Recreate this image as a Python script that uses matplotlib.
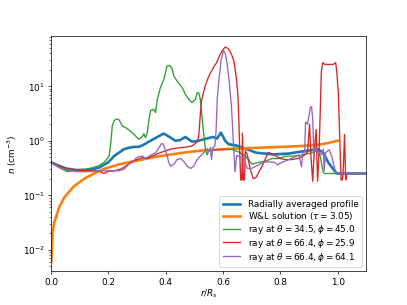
import matplotlib
matplotlib.use('Agg')
from matplotlib import pyplot as plt

# radially averaged profile
avg_r = [0.0, 0.052, 0.087, 0.133, 0.168, 0.2, 0.22, 0.237, 0.255, 0.272,
         0.29, 0.307, 0.325, 0.342, 0.365, 0.393, 0.41, 0.434, 0.45, 0.469,
         0.492, 0.51, 0.53, 0.566, 0.579, 0.593, 0.608, 0.62, 0.645, 0.67,
         0.717, 0.775, 0.83, 0.863, 0.9, 0.93, 0.95, 0.967, 0.985, 0.997,
         1.1]
avg_n = [0.40, 0.31, 0.29, 0.29, 0.32, 0.40, 0.52, 0.60, 0.70, 0.74,
         0.77, 0.77, 0.85, 0.96, 1.12, 1.35, 1.2, 1.0, 1.02, 1.17,
         0.96, 0.98, 1.05, 1.17, 1.09, 1.40, 0.99, 0.86, 0.82, 0.74,
         0.60, 0.56, 0.58, 0.62, 0.66, 0.70, 0.60, 0.40, 0.30, 0.25,
         0.25]

# W&L solution
wl_r = [0.002, 0.004, 0.006, 0.012, 0.023, 0.03, 0.046, 0.063, 0.08, 0.116,
        0.15, 0.19, 0.24, 0.30, 0.36, 0.42, 0.48, 0.54, 0.63, 0.75,
        0.86, 0.92, 0.955, 0.98, 1.0]
wl_n = [0.0063, 0.012, 0.021, 0.032, 0.048, 0.062, 0.09, 0.115, 0.145, 0.20,
        0.25, 0.31, 0.37, 0.43, 0.50, 0.56, 0.62, 0.67, 0.71, 0.75,
        0.79, 0.83, 0.88, 0.94, 1.0]

# ray theta=34.5, phi=45.0
ray1_r = [0.0, 0.029, 0.058, 0.087, 0.122, 0.145, 0.168, 0.185, 0.197, 0.203,
          0.209, 0.214, 0.22, 0.228, 0.238, 0.249, 0.261, 0.272, 0.284, 0.295,
          0.307, 0.319, 0.324, 0.33, 0.336, 0.342, 0.348, 0.359, 0.365, 0.371,
          0.382, 0.394, 0.405, 0.414, 0.423, 0.429, 0.44, 0.458, 0.469, 0.481,
          0.492, 0.504, 0.51, 0.516, 0.521, 0.53, 0.539, 0.545, 0.55, 0.585,
          0.632, 0.655, 0.678, 0.689, 0.701, 0.724, 0.747, 0.771, 0.794, 0.817,
          0.84, 0.863, 0.886, 0.91, 0.927, 0.939, 0.95, 0.956, 1.1]
ray1_n = [0.40, 0.32, 0.27, 0.29, 0.30, 0.32, 0.35, 0.40, 0.47, 0.52,
          0.92, 1.86, 2.3, 2.5, 2.4, 1.86, 1.73, 1.57, 1.40, 1.22,
          1.06, 1.18, 1.34, 1.13, 1.40, 2.46, 3.6, 3.75, 3.26, 5.7,
          9.4, 13.3, 23.3, 24.0, 20.4, 15.3, 12.4, 9.4, 7.1, 5.7,
          5.0, 5.7, 7.6, 7.4, 5.7, 1.86, 0.69, 0.55, 0.65, 0.69,
          0.69, 0.62, 0.52, 0.45, 0.37, 0.40, 0.42, 0.47, 0.47, 0.52,
          0.52, 0.53, 0.56, 0.60, 0.65, 0.52, 0.26, 0.25, 0.25]

# ray theta=66.4, phi=25.9
ray2_r = [0.0, 0.029, 0.064, 0.098, 0.133, 0.168, 0.185, 0.197, 0.22, 0.243,
          0.261, 0.284, 0.301, 0.319, 0.336, 0.353, 0.377, 0.40, 0.423, 0.446,
          0.469, 0.492, 0.504, 0.512, 0.516, 0.521, 0.526, 0.538, 0.55, 0.567,
          0.578, 0.59, 0.601, 0.608, 0.615, 0.622, 0.63, 0.638, 0.646, 0.652,
          0.656, 0.659, 0.662, 0.666, 0.668, 0.671, 0.675, 0.678, 0.685, 0.695,
          0.706, 0.715, 0.735, 0.758, 0.775, 0.80, 0.82, 0.84, 0.86, 0.88,
          0.895, 0.902, 0.907, 0.913, 0.918, 0.925, 0.93, 0.935, 0.939, 0.943,
          0.948, 0.955, 0.97, 0.985, 0.993, 0.997, 1.002, 1.007, 1.012, 1.016,
          1.019, 1.024, 1.028, 1.032, 1.1]
ray2_n = [0.41, 0.34, 0.30, 0.29, 0.28, 0.28, 0.25, 0.27, 0.28, 0.30,
          0.34, 0.42, 0.45, 0.49, 0.47, 0.52, 0.59, 0.65, 0.71, 0.74,
          0.76, 0.80, 0.89, 1.0, 1.3, 3.0, 5.7, 10.0, 15.0, 22.0,
          27.0, 38.0, 47.0, 52.0, 50.0, 46.0, 38.0, 29.0, 15.0, 7.0,
          2.0, 0.5, 0.19, 0.19, 1.36, 0.19, 0.19, 0.65, 0.55, 0.30,
          0.20, 0.21, 0.33, 0.61, 0.56, 0.47, 0.45, 0.45, 0.47, 0.52,
          0.62, 2.0, 0.5, 0.18, 0.6, 1.6, 0.18, 0.6, 3.0, 18.0,
          27.0, 25.0, 25.0, 25.0, 27.0, 18.0, 8.0, 1.25, 0.19, 0.19,
          0.25, 1.3, 0.19, 0.25, 0.25]

# ray theta=66.4, phi=64.1
ray3_r = [0.0, 0.029, 0.064, 0.098, 0.133, 0.168, 0.203, 0.238, 0.255, 0.272,
          0.284, 0.295, 0.307, 0.319, 0.33, 0.342, 0.353, 0.365, 0.377, 0.386,
          0.392, 0.40, 0.406, 0.411, 0.417, 0.429, 0.44, 0.452, 0.463, 0.475,
          0.487, 0.498, 0.51, 0.521, 0.533, 0.545, 0.55, 0.556, 0.56, 0.565,
          0.572, 0.576, 0.58, 0.585, 0.594, 0.602, 0.608, 0.614, 0.622, 0.63,
          0.636, 0.642, 0.648, 0.66, 0.672, 0.685, 0.70, 0.72, 0.74, 0.76,
          0.78, 0.79, 0.80, 0.83, 0.85, 0.865, 0.874, 0.878, 0.885, 0.888,
          0.895, 0.905, 0.909, 0.913, 0.915, 0.917, 0.922, 0.93, 0.945, 0.95,
          0.953, 0.958, 0.97, 0.98, 0.99, 0.995, 1.1]
ray3_n = [0.40, 0.32, 0.28, 0.27, 0.27, 0.28, 0.28, 0.28, 0.30, 0.37,
          0.40, 0.47, 0.51, 0.52, 0.47, 0.52, 0.56, 0.60, 0.74, 0.89,
          0.86, 0.65, 0.52, 0.40, 0.34, 0.37, 0.45, 0.47, 0.42, 0.34,
          0.31, 0.34, 0.45, 0.52, 0.60, 0.71, 0.62, 0.75, 0.45, 0.75,
          0.8, 1.5, 5.7, 11.6, 31.0, 45.0, 40.0, 27.0, 12.0, 4.0,
          1.0, 0.27, 0.54, 0.50, 0.48, 0.31, 0.31, 0.35, 0.40, 0.41,
          0.40, 0.36, 0.39, 0.45, 0.50, 0.55, 0.33, 0.60, 0.62, 2.2,
          2.0, 4.1, 4.2, 2.5, 1.2, 0.54, 0.75, 0.62, 0.55, 0.70,
          0.28, 0.60, 0.68, 0.50, 0.30, 0.25, 0.25]

fig = plt.figure(figsize=(6.4, 4.8), dpi=63.6)
plt.plot(avg_r, avg_n, color='C0', lw=3, label='Radially averaged profile')
plt.plot(wl_r, wl_n, color='C1', lw=3, label=r'W&L solution ($\tau=3.05$)')
plt.plot(ray1_r, ray1_n, color='C2', lw=1.5, label=r'ray at $\theta=34.5, \phi=45.0$')
plt.plot(ray2_r, ray2_n, color='C3', lw=1.5, label=r'ray at $\theta=66.4, \phi=25.9$')
plt.plot(ray3_r, ray3_n, color='C4', lw=1.5, label=r'ray at $\theta=66.4, \phi=64.1$')
plt.yscale('log')
plt.xlim(0, 1.1)
plt.xlabel(r'$r/R_s$', labelpad=1)
plt.ylabel(r'$n$ (cm$^{-3}$)')
plt.legend(loc='lower right', labelspacing=0.1)
plt.savefig('out.png', dpi=63.6)
